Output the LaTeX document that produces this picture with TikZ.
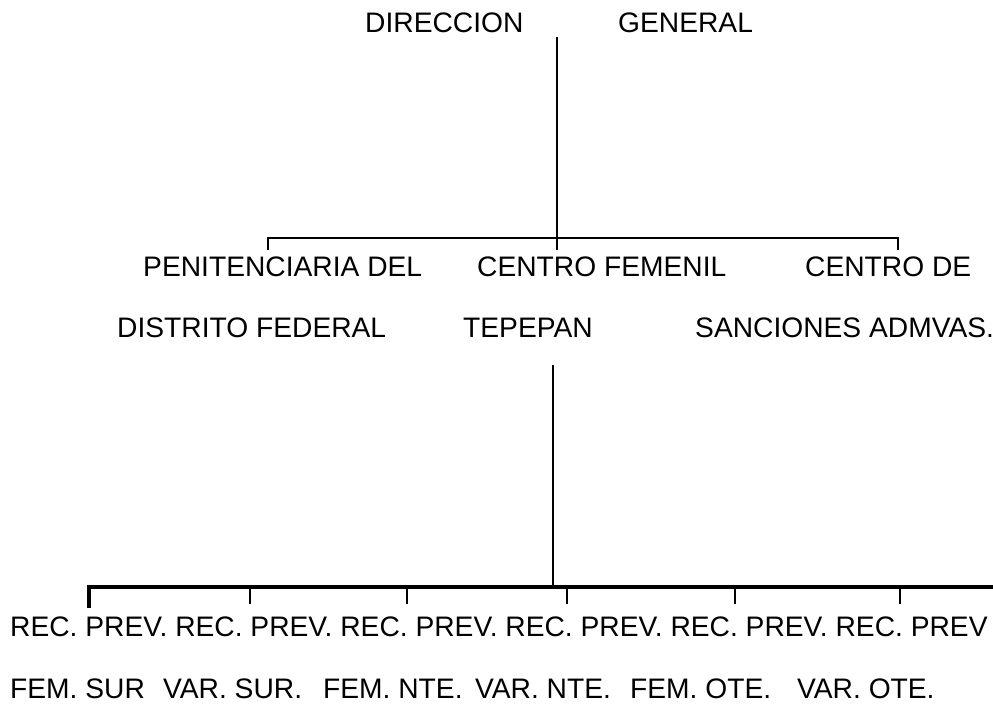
\documentclass[tikz,border=0pt]{standalone}
\usepackage{fontspec}
\setmainfont{Liberation Sans}
\usepackage{tikz}
\usepackage{xcolor}

\begin{document}
\begin{tikzpicture}[x=1pt, y=-1pt, every node/.style={anchor=base west, inner sep=0pt, font=\fontsize{28.2}{33}\selectfont}]
		\useasboundingbox (0,0) rectangle (993,709);
		%
		%Direccion general
		\node (dir) at (365,33) {DIRECCION};
		\node (gen) at (618,33) {GENERAL};
		\coordinate (top) at (557,37);
		\coordinate (hub) at (557,250);
		\draw[line width = 2pt] (top) -- (hub);
		%
		%Barra de centros
		\coordinate (cl) at (268,238);
		\coordinate (cr) at (898,238);
		\draw[line width = 2pt] ([yshift=-12pt]cl) -- (cl) -- (cr) -- ([yshift=-12pt]cr);
		%
		%Centros
		\node (pen) at (143,276) {PENITENCIARIA DEL};
		\node (pen2) at (117,337) {DISTRITO FEDERAL};
		\node (fem) at (477,276) {CENTRO FEMENIL};
		\node (fem2) at (463,337) {TEPEPAN};
		\node (san) at (805,276) {CENTRO DE};
		\node (san2) at (695,337) {SANCIONES ADMVAS.};
		%
		%Linea a reclusorios
		\coordinate (low) at (553,365);
		\coordinate (bar) at (553,587);
		\draw[line width = 2pt] (low) -- (bar);
		%
		%Barra de reclusorios
		\coordinate (bl) at (89,587);
		\coordinate (br) at (993,587);
		\draw[line width = 3.5pt] ([yshift=-21pt]bl) -- (bl) -- (br);
		\foreach \x in {250,407,567,735,900}
			\draw[line width = 2pt] (\x,587) -- (\x,604);
		%
		%Reclusorios
		\node (rec) at (10,636) {REC. PREV. REC. PREV. REC. PREV. REC. PREV. REC. PREV. REC. PREV};
		\node (fs) at (10,698) {FEM. SUR};
		\node (vs) at (163,698) {VAR. SUR.};
		\node (fn) at (323,698) {FEM. NTE.};
		\node (vn) at (475,698) {VAR. NTE.};
		\node (fo) at (630,698) {FEM. OTE.};
		\node (vo) at (797,698) {VAR. OTE.};
	\end{tikzpicture}
\end{document}
